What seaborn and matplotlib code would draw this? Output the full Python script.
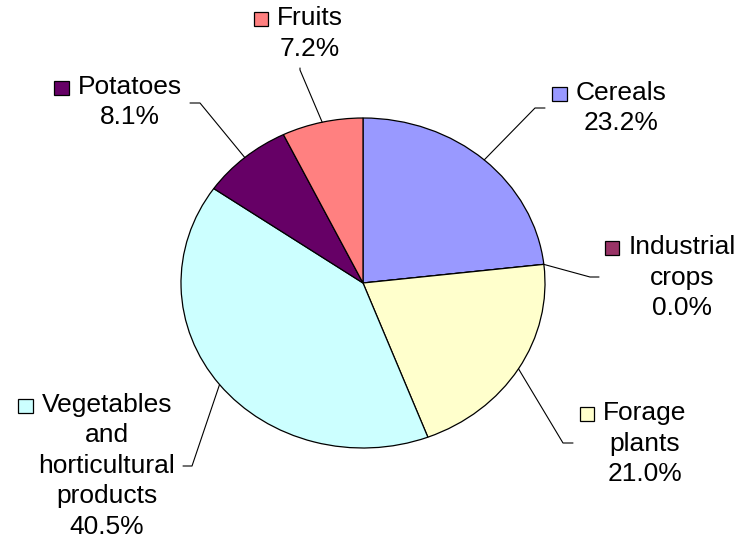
import numpy as np
import matplotlib
matplotlib.use("Agg")
import matplotlib.pyplot as plt
import seaborn as sns

sns.set_theme(style="white")
plt.rcParams['font.family'] = ['Liberation Sans', 'DejaVu Sans']

# data (clockwise from 12 o'clock)
categories = ["Cereals", "Industrial crops", "Forage plants",
              "Vegetables and horticultural products", "Potatoes", "Fruits"]
shares = [23.2, 0.0, 21.0, 40.5, 8.1, 7.2]
colors = ["#9999FF", "#993366", "#FFFFCC", "#CCFFFF", "#660066", "#FF8080"]

# label lines as wrapped in the original
label_lines = [["Cereals"], ["Industrial", "crops"], ["Forage", "plants"],
               ["Vegetables", "and", "horticultural", "products"],
               ["Potatoes"], ["Fruits"]]

# layout in pixels (label block centre x, first line y, leader elbow, leader end)
W, H = 739, 541
cx, cy, rx, ry = 363, 283, 182, 165
label_pos = [(621, 93), (682, 247), (645, 413), (107, 405), (130, 87), (310, 18)]
elbows = [((535, 108), (545, 108)), ((590, 277), (599, 277)),
          ((563, 443), (573, 443)), ((192, 466), (183, 466)),
          ((200, 103), (190, 103)), ((300, 70), (300, 68))]
line_h = 30.5
fs = 19

fig = plt.figure(figsize=(W / 100, H / 100), dpi=100)
fig.patch.set_facecolor("white")

ax = fig.add_axes([0, 0, 1, 1])
wedges, _ = ax.pie(shares, colors=colors, startangle=90, counterclock=False,
                   radius=1, wedgeprops=dict(edgecolor="black", linewidth=0.9))
ax.set_aspect("auto")
ax.set_xlim(-cx / rx, (W - cx) / rx)
ax.set_ylim(-(H - cy) / ry, cy / ry)
ax.axis("off")

lab = fig.add_axes([0, 0, 1, 1], facecolor="none")
lab.set_xlim(0, W)
lab.set_ylim(H, 0)
lab.axis("off")

fig.canvas.draw()
rend = fig.canvas.get_renderer()

for w, lines, val, col, (lx, ly), (el, en) in zip(wedges, label_lines, shares, colors,
                                                   label_pos, elbows):
    mid = np.deg2rad((w.theta1 + w.theta2) / 2)
    sx = cx + rx * np.cos(mid)
    sy = cy - ry * np.sin(mid)
    lab.plot([sx, el[0], en[0]], [sy, el[1], en[1]], color="black", lw=0.8)

    all_lines = lines + [f"{val:.1f}%"]
    for i, t in enumerate(all_lines):
        txt = lab.text(lx, ly + i * line_h, t, ha="center", va="center",
                       fontsize=fs, color="black")
        if i == 0:
            bb = txt.get_window_extent(renderer=rend)
            left = bb.x0  # pixels from left (dpi 100, fig px == data px in x)
            sq = 14.5
            lab.add_patch(plt.Rectangle((left - 9 - sq, ly - sq / 2 + 1), sq, sq,
                                        facecolor=col, edgecolor="black", lw=0.9))

fig.savefig("out.png", dpi=100, facecolor="white")
